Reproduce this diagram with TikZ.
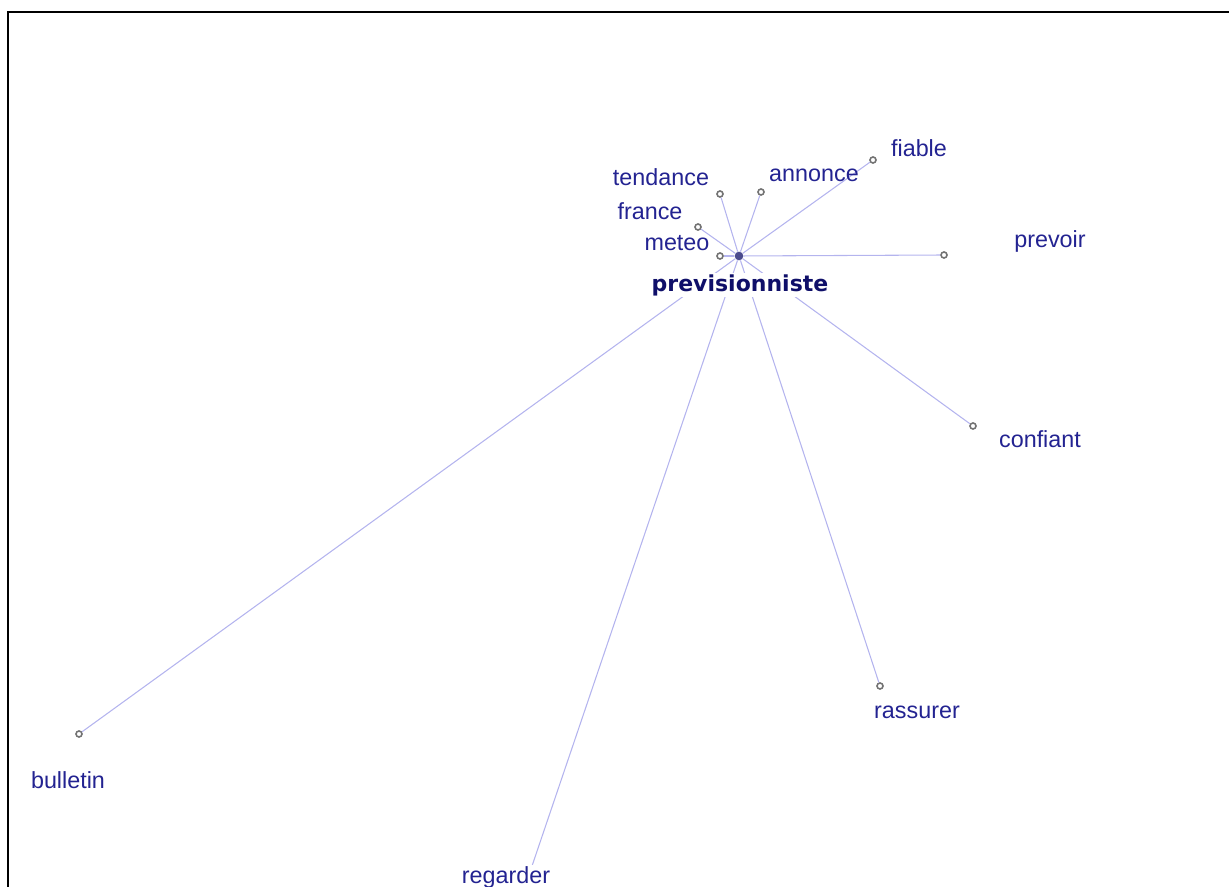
\documentclass[tikz,border=0pt]{standalone}
\usepackage{fontspec}
\setmainfont{Liberation Sans}
\newfontfamily\heavyface{DejaVu Sans}
\usetikzlibrary{positioning}
\definecolor{wordblue}{RGB}{35,35,145}
\definecolor{hubnavy}{RGB}{15,15,105}
\definecolor{edgelilac}{RGB}{180,180,238}
\definecolor{dotgrey}{RGB}{115,115,115}

\begin{document}
\begin{tikzpicture}[x=0.75pt,y=-0.75pt,
  leaf/.style={circle,draw=dotgrey,fill=white,line width=1.2pt,
    inner sep=0pt,minimum size=4.5pt},
  hub/.style={circle,fill=hubnavy!75,inner sep=0pt,minimum size=6.5pt},
  word/.style={text=wordblue,font=\fontsize{17.5}{20}\selectfont,inner sep=0pt},
  edge/.style={edgelilac,line width=0.8pt}
]
\useasboundingbox (0,0) rectangle (1229,887);
\draw[line width=1.5pt] (7.5,887) -- (7.5,12) -- (1229,12);
% hub
\node[hub] (prev) at (739,256) {};
% neighbours
\node[leaf] (meteo) at (720,256) {};
\node[leaf] (france) at (698,227) {};
\node[leaf] (tendance) at (720,194) {};
\node[leaf] (annonce) at (761,192) {};
\node[leaf] (fiable) at (873,160) {};
\node[leaf] (prevoir) at (944,255) {};
\node[leaf] (confiant) at (973,426) {};
\node[leaf] (rassurer) at (880,686) {};
\node[leaf] (bulletin) at (79,734) {};
\coordinate (regarder) at (532,866);
% edges
\foreach \w in {meteo,france,tendance,annonce,fiable,prevoir,confiant,rassurer,bulletin,regarder}
  \draw[edge] (prev) -- (\w);
% labels
\node[word,text=hubnavy,fill=white,inner sep=1pt,
  font=\fontsize{16.5}{20}\heavyface\bfseries] (prevL) at (740,285) {previsionniste};
\node[word] (meteoL) at (677,243) {meteo};
\node[word] (franceL) at (650,211) {france};
\node[word] (tendanceL) at (661,177) {tendance};
\node[word] (annonceL) at (814,175) {annonce};
\node[word] (fiableL) at (919,148) {fiable};
\node[word] (prevoirL) at (1050,241) {prevoir};
\node[word] (confiantL) at (1040,439) {confiant};
\node[word] (rassurerL) at (917,712) {rassurer};
\node[word] (bulletinL) at (68,780) {bulletin};
\node[word,fill=white,inner sep=1pt] (regarderL) at (506,877) {regarder};
\end{tikzpicture}
\end{document}
